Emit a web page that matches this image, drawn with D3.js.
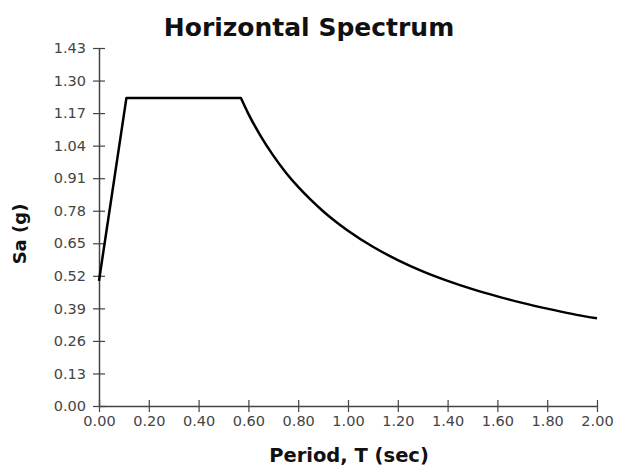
<!DOCTYPE html>
<html>
<head>
<meta charset="utf-8">
<script src="https://cdn.jsdelivr.net/npm/d3@7"></script>
<style>
  body { margin: 0; background: #fff; }
  svg { display: block; font-family: "DejaVu Sans", sans-serif; }
</style>
</head>
<body>
<svg></svg>
<script>
// spectrum values: ramp + plateau, then descending branch
const rampPeriods = [0.00, 0.11, 0.57];
const rampSa = [0.50, 1.23, 1.23];
const descPeriods = [0.57, 0.60, 0.65, 0.70, 0.75, 0.80, 0.85, 0.90, 0.95, 1.00,
                     1.10, 1.20, 1.30, 1.40, 1.50, 1.60, 1.70, 1.80, 1.90, 2.00];
const descSa = [1.23, 1.167, 1.077, 1.000, 0.933, 0.875, 0.824, 0.778, 0.737, 0.700,
                0.636, 0.583, 0.538, 0.500, 0.467, 0.438, 0.412, 0.389, 0.368, 0.350];
const xTicks = [0, 0.2, 0.4, 0.6, 0.8, 1.0, 1.2, 1.4, 1.6, 1.8, 2.0];
const yTicks = [0, 0.13, 0.26, 0.39, 0.52, 0.65, 0.78, 0.91, 1.04, 1.17, 1.30, 1.43];

const ramp = rampPeriods.map((t, i) => ({ t: t, sa: rampSa[i] }));
const desc = descPeriods.map((t, i) => ({ t: t, sa: descSa[i] }));

const width = 618;
const height = 466;
const margin = { top: 48, right: 21, bottom: 60, left: 99 };

const svg = d3.select("svg")
    .attr("width", width)
    .attr("height", height);

const x = d3.scaleLinear().domain([0, 2]).range([margin.left, width - margin.right]);
const y = d3.scaleLinear().domain([0, 1.43]).range([height - margin.bottom, margin.top]);

// axes
const xAxis = svg.append("g")
    .attr("transform", `translate(0,${height - margin.bottom})`)
    .call(d3.axisBottom(x).tickValues(xTicks).tickSize(6).tickSizeOuter(0).tickFormat(d3.format(".2f")));

const yAxis = svg.append("g")
    .attr("transform", `translate(${margin.left},0)`)
    .call(d3.axisLeft(y).tickValues(yTicks).tickSize(6).tickSizeOuter(0).tickFormat(d3.format(".2f")));

[xAxis, yAxis].forEach(a => {
    a.select(".domain").attr("stroke", "#444").attr("stroke-width", 1.5);
    a.selectAll(".tick line").attr("stroke", "#444").attr("stroke-width", 1.2);
    a.selectAll(".tick text").attr("fill", "#444").attr("font-size", 14.5)
        .attr("font-family", "DejaVu Sans");
});
// ticks cross the axis
xAxis.selectAll(".tick line").attr("y1", -6).attr("y2", 6);
xAxis.selectAll(".tick text").attr("y", 10);
yAxis.selectAll(".tick line").attr("x1", -6).attr("x2", 6);
yAxis.selectAll(".tick text").attr("x", -13);

// spectrum line
const rampLine = d3.line()
    .x(d => x(d.t))
    .y(d => y(d.sa));
const descLine = d3.line()
    .x(d => x(d.t))
    .y(d => y(d.sa))
    .curve(d3.curveMonotoneX);

svg.append("path")
    .attr("fill", "none")
    .attr("stroke", "#000")
    .attr("stroke-width", 2.5)
    .attr("stroke-linejoin", "round")
    .attr("d", rampLine(ramp) + descLine(desc).replace(/^M/, "L"));

// titles
svg.append("text")
    .attr("x", 309)
    .attr("y", 36)
    .attr("text-anchor", "middle")
    .attr("font-size", 25)
    .attr("font-weight", "bold")
    .attr("fill", "#111")
    .text("Horizontal Spectrum");

svg.append("text")
    .attr("x", 349)
    .attr("y", 462)
    .attr("text-anchor", "middle")
    .attr("font-size", 19.5)
    .attr("font-weight", "bold")
    .attr("fill", "#111")
    .text("Period, T (sec)");

svg.append("text")
    .attr("transform", `translate(26,234) rotate(-90)`)
    .attr("text-anchor", "middle")
    .attr("font-size", 18)
    .attr("font-weight", "bold")
    .attr("fill", "#111")
    .text("Sa (g)");
</script>
</body>
</html>
